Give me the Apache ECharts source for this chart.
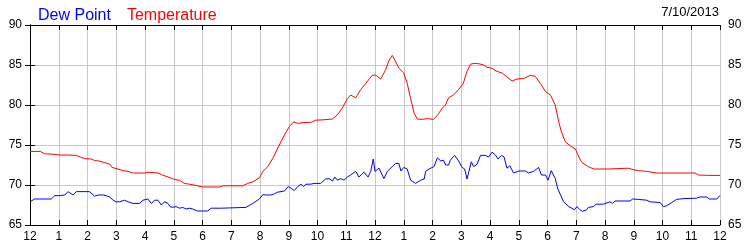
<!DOCTYPE html>
<html>
<head>
<meta charset="utf-8">
<script src="https://cdn.jsdelivr.net/npm/echarts@6/dist/echarts.min.js"></script>
<style>
html,body{margin:0;padding:0;background:#fff;}
#chart{width:750px;height:250px;}
</style>
</head>
<body>
<div id="chart"></div>
<script>
// [hour of day, °F]
var temperature = [[0,74.2],[0.36,74.2],[0.51,73.9],[0.8,73.85],[1.03,73.75],[1.3,73.75],[1.61,73.7],[1.75,73.5],[1.9,73.3],[2.13,73.25],[2.25,73.05],[2.31,73.2],[2.4,73.0],[2.6,72.8],[2.78,72.6],[2.85,72.2],[3.06,72.0],[3.23,71.8],[3.41,71.7],[3.6,71.5],[3.99,71.5],[4.1,71.6],[4.45,71.5],[4.57,71.3],[4.8,71.0],[5.02,70.7],[5.2,70.6],[5.37,70.2],[5.55,70.1],[5.83,69.9],[6.0,69.75],[6.6,69.75],[6.7,69.9],[7.4,69.9],[7.57,70.2],[7.75,70.4],[7.98,70.9],[8.1,71.7],[8.27,72.3],[8.44,73.3],[8.67,75.0],[8.85,76.25],[9.02,77.3],[9.17,77.9],[9.31,77.7],[9.5,77.8],[9.76,77.8],[9.93,78.1],[10.2,78.15],[10.52,78.25],[10.69,78.75],[10.86,79.6],[11.04,80.8],[11.15,81.25],[11.33,80.9],[11.5,81.9],[11.68,82.7],[11.9,83.7],[12.02,83.75],[12.2,83.25],[12.37,84.4],[12.49,85.6],[12.6,86.2],[12.72,85.4],[12.83,84.6],[13.0,84.0],[13.12,82.7],[13.24,80.8],[13.36,79.0],[13.47,78.25],[13.65,78.2],[13.82,78.3],[14.03,78.2],[14.17,78.7],[14.34,79.6],[14.45,80.0],[14.56,80.9],[14.73,81.25],[14.9,81.9],[15.07,82.7],[15.2,84.2],[15.32,85.1],[15.45,85.2],[15.62,85.15],[15.78,85.0],[15.9,84.7],[16.07,84.6],[16.24,84.2],[16.42,84.0],[16.59,83.5],[16.77,83.0],[16.94,83.25],[17.17,83.3],[17.4,83.7],[17.57,83.6],[17.75,82.7],[17.93,81.7],[18.1,81.25],[18.27,80.0],[18.39,77.9],[18.48,76.7],[18.62,75.4],[18.79,74.9],[18.97,74.5],[19.09,73.5],[19.2,72.8],[19.42,72.3],[19.6,72.0],[20.12,72.0],[20.18,72.1],[20.81,72.1],[21.0,71.9],[21.16,71.8],[21.45,71.7],[21.8,71.5],[23.13,71.5],[23.25,71.25],[23.6,71.2],[24,71.2]];

var dewPoint = [[0,67.9],[0.05,68.0],[0.16,68.25],[0.74,68.25],[0.8,68.4],[0.86,68.67],[1.03,68.67],[1.21,68.75],[1.32,69.17],[1.38,68.95],[1.5,68.75],[1.61,69.17],[2.07,69.17],[2.13,69.05],[2.25,68.6],[2.37,68.75],[2.42,68.5],[2.54,68.75],[2.65,68.67],[2.77,68.5],[2.89,68.1],[3.0,67.9],[3.12,67.9],[3.29,68.1],[3.41,67.9],[3.58,67.7],[3.81,67.7],[3.93,68.1],[4.1,68.25],[4.22,67.7],[4.34,68.1],[4.45,68.1],[4.57,67.5],[4.68,67.9],[4.8,67.7],[4.87,67.3],[4.96,67.2],[5.08,67.3],[5.2,67.1],[5.31,67.2],[5.43,67.0],[5.55,67.1],[5.66,67.0],[5.83,66.75],[6.18,66.75],[6.3,67.1],[6.64,67.1],[6.7,67.2],[7.51,67.2],[7.75,67.7],[7.98,68.25],[8.1,68.8],[8.21,68.75],[8.38,68.75],[8.5,68.9],[8.61,69.1],[8.73,69.17],[8.85,69.25],[8.98,69.8],[9.08,69.6],[9.19,69.3],[9.31,69.8],[9.43,70.1],[9.51,69.8],[9.6,70.1],[9.76,70.1],[9.88,70.2],[10.11,70.2],[10.28,70.75],[10.4,70.8],[10.52,70.5],[10.6,71.0],[10.69,70.6],[10.81,70.8],[10.92,70.6],[11.04,71.0],[11.15,71.25],[11.33,71.7],[11.44,71.0],[11.62,71.6],[11.76,71.0],[11.85,71.7],[11.94,73.25],[12.0,71.7],[12.14,72.1],[12.31,70.8],[12.43,71.7],[12.6,72.3],[12.72,72.7],[12.83,72.7],[12.9,71.75],[13.0,72.2],[13.12,72.0],[13.24,70.6],[13.41,70.2],[13.59,70.6],[13.71,70.75],[13.76,71.7],[13.88,72.0],[14.05,72.3],[14.17,73.4],[14.29,73.0],[14.38,73.1],[14.46,72.5],[14.56,72.5],[14.62,73.1],[14.77,73.7],[14.91,73.0],[15.03,72.2],[15.12,72.0],[15.2,70.75],[15.35,72.9],[15.43,72.3],[15.55,72.6],[15.67,73.7],[15.84,73.7],[15.95,73.5],[16.07,74.1],[16.19,73.75],[16.28,73.25],[16.4,73.7],[16.49,73.5],[16.59,72.1],[16.69,72.4],[16.82,71.5],[17.0,71.75],[17.23,71.75],[17.34,71.5],[17.52,71.7],[17.69,72.2],[17.79,71.25],[17.93,71.25],[18.02,70.6],[18.13,71.8],[18.27,70.8],[18.36,69.5],[18.56,67.9],[18.74,67.3],[18.94,66.9],[19.02,67.3],[19.13,66.9],[19.22,66.7],[19.36,66.9],[19.42,67.2],[19.6,67.3],[19.69,67.6],[19.94,67.6],[20.0,67.8],[20.17,67.9],[20.26,67.7],[20.35,68.0],[20.87,68.0],[20.96,68.25],[21.16,68.2],[21.45,68.1],[21.57,67.9],[21.92,67.8],[22.03,67.3],[22.14,67.4],[22.32,67.8],[22.49,68.2],[22.75,68.3],[23.19,68.35],[23.3,68.5],[23.54,68.5],[23.63,68.25],[23.89,68.25],[24,68.7]];

var seriesNames = ['Dew Point', 'Temperature'];
var seriesColors = ['#0000ff', '#ff0000'];
var dateLabel = '7/10/2013';
var yMin = 65, yMax = 90, yStep = 5;
var xMin = 0, xMax = 24, xStep = 1;

var font = '"Liberation Sans", Arial, sans-serif';
var chart = echarts.init(document.getElementById('chart'), null, {renderer: 'canvas'});

function hourLabel(v) { var h = Math.round(v) % 12; return String(h === 0 ? 12 : h); }

var yAxisCommon = {
  type: 'value', min: yMin, max: yMax, interval: yStep,
  axisLine: {show: true, lineStyle: {color: '#000', width: 1}},
  axisTick: {show: true, inside: true, length: 5, lineStyle: {color: '#000'}},
  axisLabel: {color: '#000', fontSize: 12, fontFamily: font, margin: 8},
  splitLine: {show: false}
};

chart.setOption({
  animation: false,
  backgroundColor: '#fff',
  grid: {left: 30, right: 30, top: 25, bottom: 25, containLabel: false},
  legend: {
    left: 28, top: 3, icon: 'none', itemWidth: 0, itemHeight: 0, itemGap: 11,
    selectedMode: false,
    data: [
      {name: seriesNames[0], textStyle: {color: seriesColors[0]}},
      {name: seriesNames[1], textStyle: {color: seriesColors[1]}}
    ],
    textStyle: {fontSize: 16, fontFamily: font, padding: 0}
  },
  title: {
    text: dateLabel, right: 31, top: 6, padding: 0,
    textStyle: {fontSize: 13, fontWeight: 'normal', color: '#000', fontFamily: font}
  },
  xAxis: [{
    type: 'value', min: xMin, max: xMax, interval: xStep, position: 'bottom',
    axisLine: {show: true, onZero: false, lineStyle: {color: '#000', width: 1}},
    axisTick: {show: true, inside: true, length: 5, lineStyle: {color: '#000'}},
    axisLabel: {color: '#000', fontSize: 12, fontFamily: font, margin: 6, formatter: hourLabel},
    splitLine: {show: true, lineStyle: {color: '#c8c8c8', width: 1}}
  }, {
    type: 'value', min: xMin, max: xMax, interval: xStep, position: 'top',
    axisLine: {show: true, onZero: false, lineStyle: {color: '#000', width: 1}},
    axisTick: {show: true, inside: true, length: 5, lineStyle: {color: '#000'}},
    axisLabel: {show: false},
    splitLine: {show: false}
  }],
  yAxis: [
    Object.assign({}, yAxisCommon, {position: 'left', splitLine: {show: true, lineStyle: {color: '#c8c8c8', width: 1}}}),
    Object.assign({}, yAxisCommon, {position: 'right'})
  ],
  series: [{
    name: seriesNames[0], type: 'line', data: dewPoint, xAxisIndex: 0, yAxisIndex: 0,
    showSymbol: false, symbol: 'none', lineStyle: {color: seriesColors[0], width: 1}, itemStyle: {color: seriesColors[0]}
  }, {
    name: seriesNames[1], type: 'line', data: temperature, xAxisIndex: 0, yAxisIndex: 0,
    showSymbol: false, symbol: 'none', lineStyle: {color: seriesColors[1], width: 1}, itemStyle: {color: seriesColors[1]}
  }]
});
</script>
</body>
</html>
